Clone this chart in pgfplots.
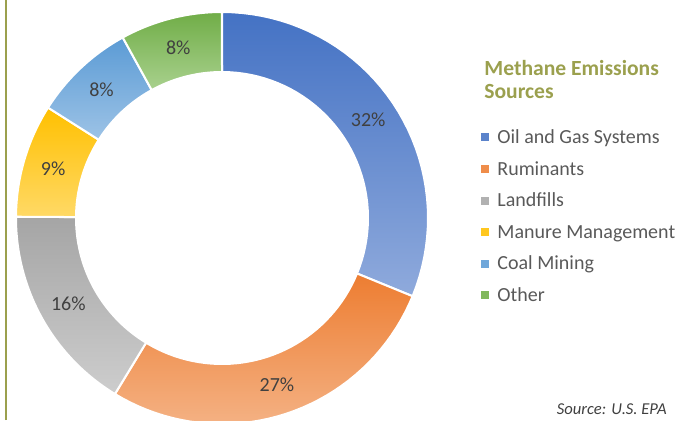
\documentclass[border=0pt]{standalone}
\usepackage{pgfplots}
\pgfplotsset{compat=1.18}
\usepackage{fontspec}
\setmainfont{Carlito}
\definecolor{c1a}{HTML}{4472C4}\definecolor{c1b}{HTML}{8FAADC}
\definecolor{c2a}{HTML}{ED7D31}\definecolor{c2b}{HTML}{F4B183}
\definecolor{c3a}{HTML}{A5A5A5}\definecolor{c3b}{HTML}{CDCDCD}
\definecolor{c4a}{HTML}{FFC000}\definecolor{c4b}{HTML}{FFD966}
\definecolor{c5a}{HTML}{5B9BD5}\definecolor{c5b}{HTML}{9DC3E6}
\definecolor{c6a}{HTML}{70AD47}\definecolor{c6b}{HTML}{A9D18E}
\definecolor{titlecol}{HTML}{9BA04E}
\definecolor{legtext}{HTML}{595959}
\definecolor{labtext}{HTML}{404040}
\def\cx{222}\def\cy{202}\def\Ro{206}\def\Ri{146}\def\Rl{176}
% #1 cumulative start (%), #2 value (%), #3 top colour, #4 bottom colour, #5 label
\newcommand{\donutseg}[5]{%
  \addplot[draw=white, line width=1pt, top color=#3, bottom color=#4,
    variable=\t, samples at={0,0.025,...,1,2,2.025,...,3}]
    ({\cx + ifthenelse(\t<1.5,\Ro,\Ri)*cos(90-3.6*(#1+#2*ifthenelse(\t<1.5,\t,3-\t)))},
     {\cy + ifthenelse(\t<1.5,\Ro,\Ri)*sin(90-3.6*(#1+#2*ifthenelse(\t<1.5,\t,3-\t)))}) -- cycle;
  \pgfmathsetmacro\lx{\cx+\Rl*cos(90-3.6*(#1+#2/2))}%
  \pgfmathsetmacro\ly{\cy+\Rl*sin(90-3.6*(#1+#2/2))}%
  \edef\tmp{\noexpand\node[text=labtext, font=\noexpand\fontsize{10}{12}\noexpand\selectfont, inner sep=0pt] at (axis cs:\lx,\ly) {#5\noexpand\%};}\tmp
}
\newcommand{\legitem}[3]{% #1 centre Y, #2 colour, #3 text
  \fill[#2] (axis cs:481,#1-4) rectangle (axis cs:489,#1+4);
  \node[anchor=base west, inner sep=0pt, text=legtext, font=\fontsize{10}{12}\selectfont] at (axis cs:497,#1-6) {#3};
}
\begin{document}
\begin{tikzpicture}
\begin{axis}[
  x=0.5pt, y=0.5pt, scale only axis,
  xmin=0, xmax=691, ymin=0, ymax=420,
  hide axis, clip=true,
]
\path (axis cs:0,0) rectangle (axis cs:691,420);
\draw[titlecol, line width=0.7pt] (axis cs:6,0) -- (axis cs:6,420);
% shares (%): Oil and Gas 31.2, Ruminants 27.5, Landfills 16.4, Manure 8.9, Coal 8.0, Other 8.0
\donutseg{0}{31.2}{c1a}{c1b}{32}
\donutseg{31.2}{27.5}{c2a}{c2b}{27}
\donutseg{58.7}{16.4}{c3a}{c3b}{16}
\donutseg{75.1}{8.9}{c4a}{c4b}{9}
\donutseg{84.0}{8.0}{c5a}{c5b}{8}
\donutseg{92.0}{8.0}{c6a}{c6b}{8}
\node[anchor=base west, inner sep=0pt, text=titlecol, font=\fontsize{10.8}{12.5}\selectfont\bfseries] at (axis cs:484,345) {Methane Emissions};
\node[anchor=base west, inner sep=0pt, text=titlecol, font=\fontsize{10.8}{12.5}\selectfont\bfseries] at (axis cs:484,322) {Sources};
\legitem{283}{c1a!70!c1b}{Oil and Gas Systems}
\legitem{251}{c2a!70!c2b}{Ruminants}
\legitem{219.5}{c3a!70!c3b}{Landfills}
\legitem{188}{c4a!70!c4b}{Manure Management}
\legitem{156.5}{c5a!70!c5b}{Coal Mining}
\legitem{125}{c6a!70!c6b}{Other}
\node[anchor=base east, inner sep=0pt, text=labtext, font=\fontsize{8.3}{10}\selectfont\itshape] at (axis cs:667,6) {Source: U.S. EPA};
\end{axis}
\end{tikzpicture}
\end{document}
